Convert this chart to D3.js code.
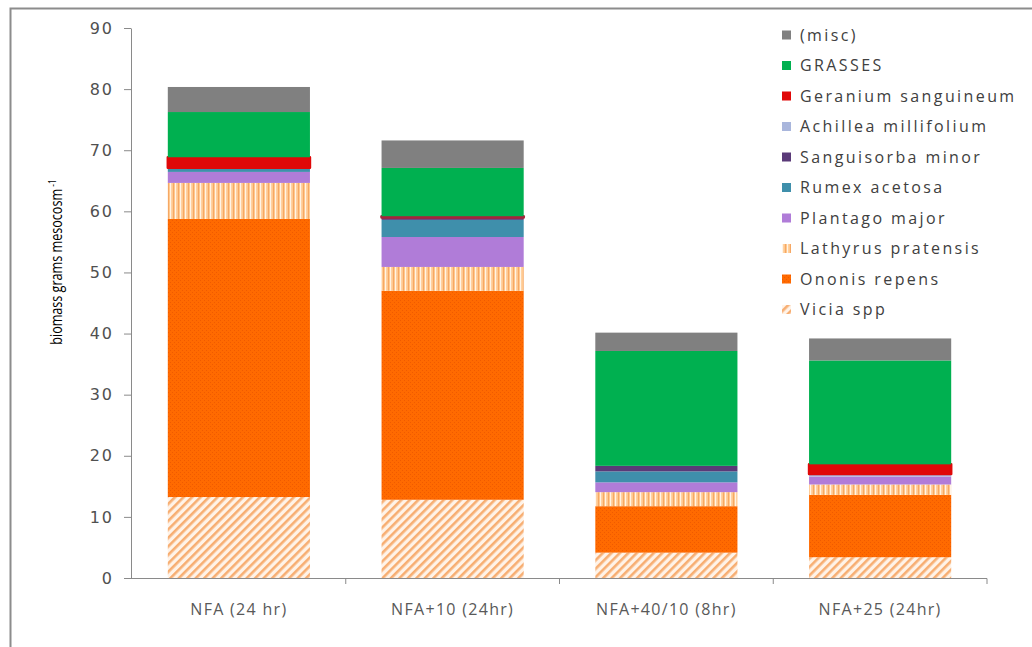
<!DOCTYPE html>
<html>
<head>
<meta charset="utf-8">
<script src="https://cdn.jsdelivr.net/npm/d3@7"></script>
<style>
  html, body { margin: 0; padding: 0; background: #fff; }
  svg { display: block; }
  text { font-family: "Open Sans", "DejaVu Sans", sans-serif; }
</style>
</head>
<body>
<svg id="chart" width="1032" height="647"></svg>
<script>
// ---- data ----
const categories = ["NFA (24 hr)", "NFA+10 (24hr)", "NFA+40/10 (8hr)", "NFA+25 (24hr)"];
const vicia       = [13.25, 12.8, 4.15, 3.4];
const ononis      = [45.5, 34.2, 7.6, 10.2];
const lathyrus    = [5.9, 3.9, 2.3, 1.7];
const plantago    = [1.8, 4.9, 1.6, 1.3];
const rumex       = [0.7, 2.8, 1.8, 0.0];
const sanguisorba = [0.0, 0.4, 0.9, 0.0];
const achillea    = [0.0, 0.0, 0.0, 0.4];
const geranium    = [1.7, 0.2, 0.0, 1.6];
const grasses     = [7.4, 7.9, 18.8, 17.0];
const misc        = [4.1, 4.5, 3.0, 3.6];
const seriesNames = ["Vicia spp", "Ononis repens", "Lathyrus pratensis", "Plantago major",
  "Rumex acetosa", "Sanguisorba minor", "Achillea millifolium", "Geranium sanguineum", "GRASSES", "(misc)"];
const seriesValues = [vicia, ononis, lathyrus, plantago, rumex, sanguisorba, achillea, geranium, grasses, misc];
const yTicks = [0, 10, 20, 30, 40, 50, 60, 70, 80, 90];

// ---- styles ----
const fills = {
  "Vicia spp": "url(#pVicia)",
  "Ononis repens": "url(#pOnonis)",
  "Lathyrus pratensis": "url(#pLathyrus)",
  "Plantago major": "#b07cd8",
  "Rumex acetosa": "#3f8fab",
  "Sanguisorba minor": "#5a3a78",
  "Achillea millifolium": "#a9b6dc",
  "Geranium sanguineum": "#e00808",
  "GRASSES": "#00b050",
  "(misc)": "#808080"
};

const svg = d3.select("#chart");
const defs = svg.append("defs");

// Vicia: diagonal hatch
const pv = defs.append("pattern").attr("id", "pVicia").attr("patternUnits", "userSpaceOnUse")
  .attr("width", 6).attr("height", 6).attr("patternTransform", "rotate(45)");
pv.append("rect").attr("width", 6).attr("height", 6).attr("fill", "#fff3e8");
pv.append("rect").attr("x", 0).attr("width", 2.6).attr("height", 6).attr("fill", "#f7ae72");

// Ononis: orange with fine dots
const po = defs.append("pattern").attr("id", "pOnonis").attr("patternUnits", "userSpaceOnUse")
  .attr("width", 4).attr("height", 4);
po.append("rect").attr("width", 4).attr("height", 4).attr("fill", "#ff6a00");
po.append("rect").attr("x", 0).attr("y", 0).attr("width", 1).attr("height", 1).attr("fill", "#f05a00");
po.append("rect").attr("x", 2).attr("y", 2).attr("width", 1).attr("height", 1).attr("fill", "#f05a00");

// Lathyrus: vertical stripes
const pl = defs.append("pattern").attr("id", "pLathyrus").attr("patternUnits", "userSpaceOnUse")
  .attr("width", 5).attr("height", 5);
pl.append("rect").attr("width", 5).attr("height", 5).attr("fill", "#ffc990");
pl.append("rect").attr("x", 0).attr("width", 1.2).attr("height", 5).attr("fill", "#fff4e6");
pl.append("rect").attr("x", 3).attr("width", 1).attr("height", 5).attr("fill", "#f6a864");

// ---- frame ----
svg.append("path").attr("d", "M10.5,647 V8.5 H1032").attr("fill", "none")
  .attr("stroke", "#8c8c8c").attr("stroke-width", 2);

// ---- scales ----
const x = d3.scaleBand().domain(categories).range([132, 987]).paddingInner(0.335).paddingOuter(0.1675);
const y = d3.scaleLinear().domain([0, 90]).range([578, 28]);

// ---- stacked data ----
const table = categories.map((c, i) => {
  const row = { cat: c };
  seriesNames.forEach((s, k) => row[s] = seriesValues[k][i]);
  return row;
});
const stack = d3.stack().keys(seriesNames)(table);

// ---- bars ----
const layers = svg.append("g").selectAll("g").data(stack).join("g")
  .attr("fill", d => fills[d.key]);
layers.each(function(layer) {
  const g = d3.select(this);
  const isGer = layer.key === "Geranium sanguineum";
  g.selectAll("rect").data(layer.filter(d => d[1] - d[0] > 0)).join("rect")
    .attr("x", d => x(d.data.cat))
    .attr("width", x.bandwidth())
    .attr("y", d => y(d[1]))
    .attr("height", d => y(d[0]) - y(d[1]))
    .attr("stroke", d => isGer ? (d[1] - d[0] > 1 ? "#e00808" : "#a8243a") : "none")
    .attr("fill", d => isGer && d[1] - d[0] <= 1 ? "#a8243a" : null)
    .attr("stroke-width", isGer ? 2.5 : 0)
    .attr("stroke-linejoin", "round");
});

// ---- y axis ----
const yAxis = svg.append("g").attr("transform", "translate(131,0)")
  .call(d3.axisLeft(y).tickValues(yTicks).tickSize(7).tickPadding(10).tickSizeOuter(0));
yAxis.select(".domain").attr("stroke", "#8a8a8a");
yAxis.selectAll(".tick line").attr("stroke", "#8a8a8a");
yAxis.selectAll(".tick text").attr("fill", "#505050").style("font-size", "16px")
  .style("letter-spacing", "2px").style("font-family", "\"DejaVu Sans\", sans-serif");

// ---- x axis (ticks at category boundaries) ----
const step = x.step();
const boundaries = categories.map(c => x(c) - step * x.paddingInner() / 2).concat([x(categories[3]) + x.bandwidth() + step * x.paddingInner() / 2]);
const xAxis = svg.append("g");
xAxis.append("line").attr("x1", 131).attr("x2", boundaries[boundaries.length - 1])
  .attr("y1", 578.5).attr("y2", 578.5).attr("stroke", "#8a8a8a");
xAxis.selectAll("line.tk").data(boundaries.slice(1)).join("line").attr("class", "tk")
  .attr("x1", d => d).attr("x2", d => d).attr("y1", 578.5).attr("y2", 584)
  .attr("stroke", "#8a8a8a");
xAxis.selectAll("text").data(categories).join("text")
  .attr("x", d => x(d) + x.bandwidth() / 2).attr("y", 615)
  .attr("text-anchor", "middle").attr("fill", "#595959")
  .style("font-size", "16px").style("letter-spacing", "1.3px")
  .text(d => d);

// ---- y axis title ----
const yt = svg.append("text").attr("transform", "translate(62,262) rotate(-90) scale(0.84,1.05)")
  .attr("text-anchor", "middle").attr("fill", "#000")
  .style("font-size", "15px");
yt.append("tspan").text("biomass grams mesocosm");
yt.append("tspan").attr("dy", -6).style("font-size", "10px").text(" -1");

// ---- legend ----
const legendOrder = seriesNames.slice().reverse();
const lg = svg.append("g").selectAll("g").data(legendOrder).join("g")
  .attr("transform", (d, i) => `translate(782,${35 + i * 30.5})`);
lg.append("rect").attr("x", 0).attr("y", -4.5).attr("width", 9).attr("height", 9)
  .attr("fill", d => fills[d]);
lg.append("text").attr("x", 18).attr("y", 0).attr("dy", "0.36em")
  .attr("fill", "#404040").style("font-size", "16px").style("letter-spacing", "2.4px")
  .text(d => d);
</script>
</body>
</html>
